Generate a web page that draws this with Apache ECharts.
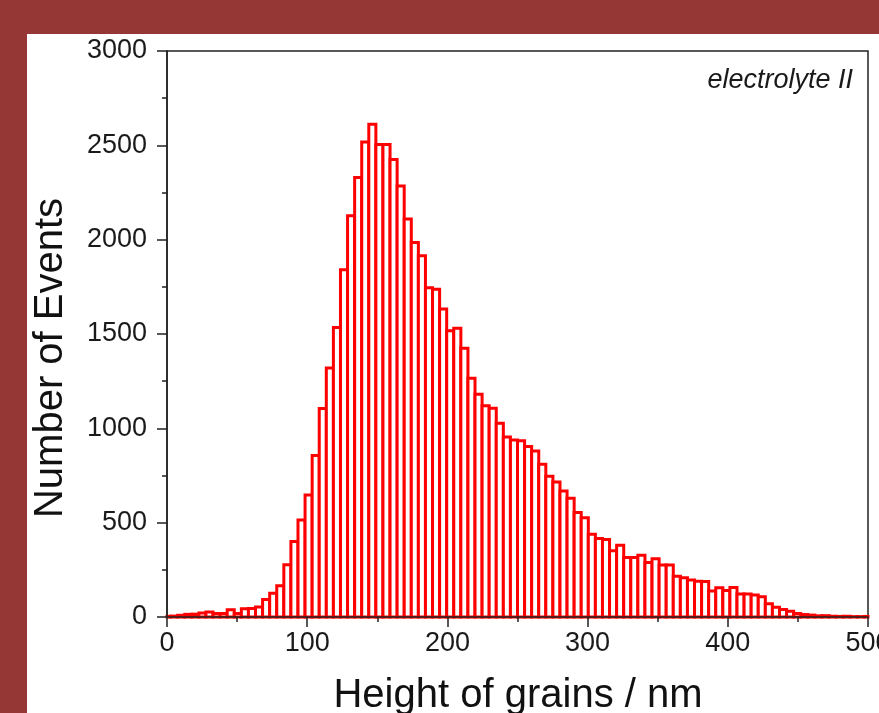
<!DOCTYPE html>
<html>
<head>
<meta charset="utf-8">
<script src="https://cdn.jsdelivr.net/npm/echarts@6/dist/echarts.min.js"></script>
<style>
  html, body { margin: 0; padding: 0; background: #953735; }
  #chart { width: 879px; height: 713px; }
</style>
</head>
<body>
<div id="chart"></div>
<script>
// Histogram: 100 bins whose centres run from 0 to 500 nm
const binCenterFirst = 0;
const binCenterLast = 500;
const counts = [
  3, 5, 9, 14, 15, 21, 26, 19, 19, 39,
  18, 44, 45, 53, 93, 126, 165, 277, 400, 514,
  646, 856, 1105, 1320, 1535, 1840, 2127, 2330, 2518, 2612,
  2505, 2505, 2425, 2285, 2110, 1985, 1915, 1745, 1737, 1632,
  1517, 1530, 1425, 1266, 1180, 1120, 1106, 1027, 954, 938,
  934, 904, 880, 810, 746, 716, 668, 630, 554, 526,
  439, 416, 411, 351, 380, 315, 315, 327, 289, 309,
  276, 276, 216, 208, 196, 190, 188, 138, 155, 140,
  156, 122, 122, 117, 107, 70, 52, 40, 30, 18,
  13, 10, 6, 7, 4, 3, 4, 2, 2, 3
];
const xTickLabels = ['0', '100', '200', '300', '400', '500'];
const yTickLabels = ['0', '500', '1000', '1500', '2000', '2500', '3000'];
const xTitle = 'Height of grains / nm';
const yTitle = 'Number of Events';
const annotation = 'electrolyte II';

const binWidth = (binCenterLast - binCenterFirst) / (counts.length - 1);
const histData = counts.map((v, i) => {
  const c = binCenterFirst + i * binWidth;
  return [c - binWidth / 2, c + binWidth / 2, v];
});

const FONT = 'Arial, "Liberation Sans", Helvetica, sans-serif';
const chart = echarts.init(document.getElementById('chart'));
chart.setOption({
  backgroundColor: '#953735',
  animation: false,
  graphic: [
    { type: 'rect', z: -100, shape: { x: 27, y: 34, width: 852, height: 679 }, style: { fill: '#ffffff' } },
    { type: 'text', z: 100, style: { text: annotation, x: 853, y: 80, align: 'right', verticalAlign: 'middle',
      font: 'italic 27px ' + FONT, fill: '#1a1a1a' } },
    { type: 'text', z: 100, x: 518, y: 696, style: { text: xTitle, x: 0, y: 0, align: 'center', verticalAlign: 'middle',
      font: '40px ' + FONT, fill: '#111' } },
    { type: 'text', z: 100, x: 51, y: 358, rotation: Math.PI / 2, style: { text: yTitle, x: 0, y: 0, align: 'center', verticalAlign: 'middle',
      font: '40px ' + FONT, fill: '#111' } }
  ],
  grid: { left: 167, right: 11, top: 51, bottom: 96, show: true, borderColor: '#222', borderWidth: 1.5,
    backgroundColor: 'transparent', containLabel: false, outerBoundsMode: 'none' },
  xAxis: {
    type: 'value', min: 0, max: 500, interval: 100, z: 10,
    axisLine: { lineStyle: { color: '#222', width: 1.5 } },
    axisTick: { length: 10, lineStyle: { color: '#222', width: 1.5 } },
    minorTick: { show: true, splitNumber: 2, length: 5, lineStyle: { color: '#222', width: 1.5 } },
    splitLine: { show: false },
    axisLabel: { margin: 13, fontSize: 27, fontFamily: FONT, color: '#1a1a1a', hideOverlap: false,
      formatter: (v) => xTickLabels[Math.round(v / 100)] }
  },
  yAxis: {
    type: 'value', min: 0, max: 3000, interval: 500, z: 10,
    axisLine: { show: true, lineStyle: { color: '#222', width: 1.5 } },
    axisTick: { show: true, length: 10, lineStyle: { color: '#222', width: 1.5 } },
    minorTick: { show: true, splitNumber: 2, length: 5, lineStyle: { color: '#222', width: 1.5 } },
    splitLine: { show: false },
    axisLabel: { margin: 20, fontSize: 27, fontFamily: FONT, color: '#1a1a1a',
      formatter: (v) => yTickLabels[Math.round(v / 500)] }
  },
  series: [{
    type: 'custom',
    data: histData,
    encode: { x: [0, 1], y: 2 },
    renderItem: function (params, api) {
      const p0 = api.coord([api.value(0), 0]);
      const p1 = api.coord([api.value(1), api.value(2)]);
      const rect = { x: p0[0], y: p1[1], width: p1[0] - p0[0], height: p0[1] - p1[1] };
      const cs = params.coordSys;
      const clipped = echarts.graphic.clipRectByRect(rect, { x: cs.x, y: cs.y - 5, width: cs.width, height: cs.height + 5 });
      if (!clipped) return null;
      return { type: 'rect', shape: clipped, style: { fill: '#ffffff', stroke: '#ff0000', lineWidth: 3 } };
    }
  }]
});
</script>
</body>
</html>
